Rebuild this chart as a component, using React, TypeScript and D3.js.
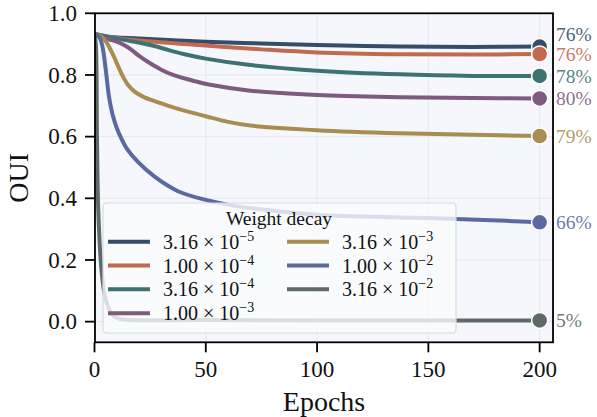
import React from "react";
import * as d3 from "d3";

const xTicks = [0, 50, 100, 150, 200];
const yTicks = [0, 0.2, 0.4, 0.6, 0.8, 1.0];

const wdMantissa = ["3.16", "1.00", "3.16", "1.00", "3.16", "1.00", "3.16"];
const wdExponent = ["−5", "−4", "−4", "−3", "−3", "−2", "−2"];
const colors = ["#344e6a", "#c06a50", "#3e7272", "#7d5a7e", "#a98c50", "#5a69a0", "#5e6a68"];
const finalLabels = ["76%", "76%", "78%", "80%", "79%", "66%", "5%"];

const s1: [number, number][] = [[0,0.933],[5,0.925],[20,0.918],[50,0.908],[75,0.902],[100,0.897],[137,0.892],[170,0.891],[200,0.892]];
const s2: [number, number][] = [[0,0.933],[10,0.92],[20,0.912],[47,0.897],[75,0.883],[100,0.873],[137,0.867],[170,0.866],[200,0.868]];
const s3: [number, number][] = [[0,0.933],[5,0.925],[11,0.917],[25,0.897],[40,0.868],[50,0.853],[70,0.832],[100,0.814],[137,0.802],[170,0.797],[200,0.797]];
const s4: [number, number][] = [[0,0.933],[3,0.922],[10,0.908],[15,0.89],[20,0.862],[25,0.838],[30,0.817],[35,0.801],[45,0.78],[52,0.768],[70,0.749],[100,0.735],[137,0.728],[170,0.725],[200,0.724]];
const s5: [number, number][] = [[0,0.933],[3,0.925],[5,0.91],[7,0.885],[9,0.855],[11,0.822],[13,0.792],[15,0.768],[18,0.746],[22,0.729],[27,0.715],[35,0.696],[42,0.681],[50,0.666],[60,0.648],[70,0.636],[100,0.621],[137,0.611],[170,0.606],[200,0.602]];
const s6: [number, number][] = [[0,0.933],[2,0.925],[3.5,0.895],[5,0.82],[6.5,0.73],[8,0.675],[10,0.628],[12,0.595],[15,0.556],[19.5,0.518],[27,0.47],[37.5,0.423],[50,0.395],[65,0.373],[80,0.36],[100,0.347],[125,0.34],[150,0.336],[175,0.33],[200,0.322]];
const s7: [number, number][] = [[0,0.933],[0.6,0.9],[1.1,0.6],[1.7,0.36],[3,0.18],[4.5,0.09],[6,0.05],[9,0.016],[12,0.008],[50,0.005],[200,0.004]];
const seriesList = [s1, s2, s3, s4, s5, s6, s7];

const W = 597, H = 417;
const L = 95, R = 553, T = 13.3, B = 342.3;
const FONT = "'Liberation Serif', 'Times New Roman', serif";

export default function App() {
  const x = d3.scaleLinear().domain([0, 206]).range([94.5, R]);
  const y = d3.scaleLinear().domain([-0.067, 1.0]).range([B, T]);
  const line = d3.line<[number, number]>().x(d => x(d[0])).y(d => y(d[1])).curve(d3.curveCatmullRom.alpha(0.5));

  const ends = seriesList.map((s, i) => ({ i, y: y(s[s.length - 1][1]) }));
  const sorted = [...ends].sort((a, b) => b.y - a.y);
  const labY: number[] = [];
  let prev = Infinity;
  for (const e of sorted) {
    let yy = e.y;
    if (yy > prev - 20) yy = prev - 20;
    labY[e.i] = yy;
    prev = yy;
  }

  const legX = 103, legY = 203, legW = 353, legH = 130;
  const rowY = [241.7, 265.5, 289.3, 313.2];
  const colLineX = [108, 287];
  const colTextX = [163, 342];

  return (
    <svg width={W} height={H} style={{ position: "absolute", left: 0, top: 0, background: "#fff" }} fontFamily={FONT}>
      <rect x={L} y={T} width={R - L} height={B - T} fill="#f5f7fc" />
      <defs>
        <clipPath id="plotclip"><rect x={L} y={T} width={R - L} height={B - T} /></clipPath>
      </defs>
      {xTicks.map(t => (
        <line key={"gx" + t} x1={x(t)} x2={x(t)} y1={T} y2={B} stroke="#e4e7ee" strokeWidth={1} />
      ))}
      {yTicks.map(t => (
        <line key={"gy" + t} x1={L} x2={R} y1={y(t)} y2={y(t)} stroke="#e4e7ee" strokeWidth={1} />
      ))}
      <g clipPath="url(#plotclip)">
        {seriesList.map((s, i) => (
          <path key={"l" + i} d={line(s) || ""} fill="none" stroke={colors[i]} strokeWidth={4} strokeLinejoin="round" />
        ))}
      </g>
      {seriesList.map((s, i) => {
        const last = s[s.length - 1];
        return <circle key={"c" + i} cx={x(last[0])} cy={y(last[1])} r={8} fill={colors[i]} stroke="#fff" strokeWidth={1.5} />;
      })}
      {seriesList.map((s, i) => (
        <text key={"pl" + i} x={556} y={labY[i]} dy="0.35em" fontSize={19.5} fill={colors[i]} fillOpacity={0.9}>{finalLabels[i]}</text>
      ))}
      <rect x={legX} y={legY} width={legW} height={legH} rx={4} fill="#fafbfd" fillOpacity={0.8} stroke="#d6dae2" strokeWidth={1.2} />
      <text x={279} y={225} textAnchor="middle" fontSize={19.5} fill="#111">Weight decay</text>
      {wdMantissa.map((m, i) => {
        const col = i < 4 ? 0 : 1;
        const row = i < 4 ? i : i - 4;
        const yy = rowY[row];
        return (
          <g key={"lg" + i}>
            <line x1={colLineX[col]} x2={colLineX[col] + 42} y1={yy} y2={yy} stroke={colors[i]} strokeWidth={4} />
            <text x={colTextX[col]} y={yy} dy="0.35em" fontSize={20} fill="#111">
              {m} × 10<tspan fontSize={14} dy={-8}>{wdExponent[i]}</tspan>
            </text>
          </g>
        );
      })}
      <rect x={L} y={T} width={R - L} height={B - T} fill="none" stroke="#000" strokeWidth={1.8} />
      {xTicks.map(t => (
        <g key={"xt" + t}>
          <line x1={x(t)} x2={x(t)} y1={B} y2={B + 10} stroke="#000" strokeWidth={1.8} />
          <text x={x(t)} y={376.5} textAnchor="middle" fontSize={23} fill="#111">{t}</text>
        </g>
      ))}
      {yTicks.map(t => (
        <g key={"yt" + t}>
          <line x1={L - 10} x2={L} y1={y(t)} y2={y(t)} stroke="#000" strokeWidth={1.8} />
          <text x={77} y={y(t)} dy="0.33em" textAnchor="end" fontSize={23} fill="#111">{t.toFixed(1)}</text>
        </g>
      ))}
      <text x={(L + R) / 2} y={411} textAnchor="middle" fontSize={28} fill="#111">Epochs</text>
      <text transform={`translate(28,${(T + B) / 2}) rotate(-90)`} textAnchor="middle" fontSize={28} fill="#111">OUI</text>
    </svg>
  );
}
